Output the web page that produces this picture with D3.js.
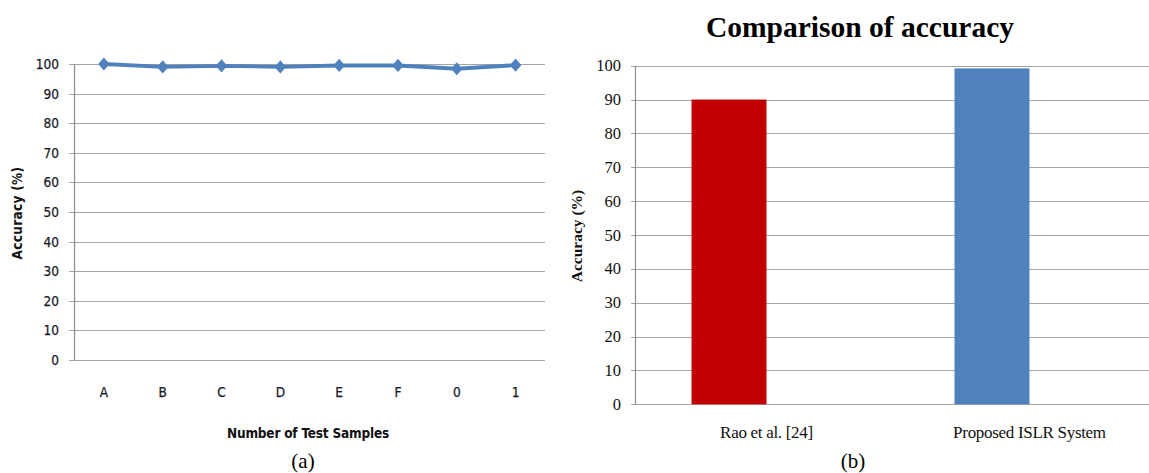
<!DOCTYPE html>
<html><head><meta charset="utf-8">
<script src="https://cdn.jsdelivr.net/npm/d3@7"></script>
<style>body{margin:0;background:#fff}svg{display:block}</style>
</head><body>
<svg id="c" width="1149" height="473"></svg>
<script>
// Chart (a)
const samples = ["A","B","C","D","E","F","0","1"];
const sampleAccuracy = [100, 99, 99.4, 99, 99.5, 99.5, 98.4, 99.6];
const ticksA = [0,10,20,30,40,50,60,70,80,90,100];
// Chart (b)
const methods = ["Rao et al. [24]", "Proposed ISLR System"];
const methodAccuracy = [90, 99.2];
const methodColors = ["#c00000", "#4f81bd"];
const ticksB = [0,10,20,30,40,50,60,70,80,90,100];

const svg = d3.select("#c");
const grid = "#a6a6a6";
const sansA = "'DejaVu Sans Condensed','DejaVu Sans',sans-serif";
const serif = "'Liberation Serif',serif";

// ---------- (a) line chart ----------
{
  const x = d3.scaleBand().domain(samples).range([74.5, 545]);
  const y = d3.scaleLinear().domain([0,100]).range([360, 64]);
  const g = svg.append("g");
  g.selectAll("line.g").data(ticksA).join("line")
    .attr("x1", 69).attr("x2", 545)
    .attr("y1", d=>Math.round(y(d))+0.5).attr("y2", d=>Math.round(y(d))+0.5)
    .attr("stroke", grid).attr("stroke-width", 1.2);
  g.append("line").attr("x1",74.5).attr("x2",74.5).attr("y1",y(100)).attr("y2",y(0)+0.5)
    .attr("stroke","#909090").attr("stroke-width",1.2);
  g.selectAll("text.t").data(ticksA).join("text")
    .attr("x", 59).attr("y", d=>y(d)+5).attr("text-anchor","end")
    .attr("font-family",sansA).attr("font-size",13.5)
    .attr("fill","#1a1a2a").attr("stroke","#1a1a2a").attr("stroke-width",0.25).text(d=>d);
  g.selectAll("text.x").data(samples).join("text")
    .attr("x", d=>x(d)+x.bandwidth()/2).attr("y", 397).attr("text-anchor","middle")
    .attr("font-family",sansA).attr("font-size",13.5)
    .attr("fill","#1a1a2a").attr("stroke","#1a1a2a").attr("stroke-width",0.25).text(d=>d);
  const pts = samples.map((s,i)=>[x(s)+x.bandwidth()/2, y(sampleAccuracy[i])]);
  g.append("path").attr("d", d3.line()(pts)).attr("fill","none")
    .attr("stroke","#4f81bd").attr("stroke-width",3.8);
  g.selectAll("path.m").data(pts).join("path")
    .attr("d", d3.symbol().type(d3.symbolSquare).size(66))
    .attr("transform", d=>`translate(${d[0]},${d[1]}) scale(1,1.15) rotate(45)`)
    .attr("fill","#4f81bd");
  g.append("text").attr("x", 308).attr("y", 438).attr("text-anchor","middle")
    .attr("font-family",sansA).attr("font-weight","bold")
    .attr("font-size",13.5).attr("letter-spacing",-0.2).attr("fill","#111").text("Number of Test Samples");
  g.append("text").attr("transform","translate(22,213) rotate(-90)").attr("text-anchor","middle")
    .attr("font-family",sansA).attr("font-weight","bold")
    .attr("font-size",13.5).attr("letter-spacing",0.3).attr("fill","#111").text("Accuracy  (%)");
  g.append("text").attr("x",303).attr("y",468).attr("text-anchor","middle")
    .attr("font-family",serif).attr("font-size",21).attr("fill","#000").text("(a)");
}

// ---------- (b) bar chart ----------
{
  const x = d3.scaleBand().domain(methods).range([635, 1086]).paddingInner(0.715).paddingOuter(0.215);
  const y = d3.scaleLinear().domain([0,100]).range([404.3, 65.7]);
  const g = svg.append("g");
  g.selectAll("line.g").data(ticksB).join("line")
    .attr("x1", 631).attr("x2", 1149)
    .attr("y1", d=>Math.round(y(d))+0.5).attr("y2", d=>Math.round(y(d))+0.5)
    .attr("stroke", grid).attr("stroke-width", 1.2);
  g.append("line").attr("x1",635.5).attr("x2",635.5).attr("y1",y(100)).attr("y2",y(0)+0.5)
    .attr("stroke","#909090").attr("stroke-width",1.2);
  g.selectAll("rect").data(methods).join("rect")
    .attr("x", d=>x(d)).attr("width", x.bandwidth())
    .attr("y", (d,i)=>y(methodAccuracy[i])).attr("height",(d,i)=>y(0)-y(methodAccuracy[i]))
    .attr("fill",(d,i)=>methodColors[i]);
  g.selectAll("text.t").data(ticksB).join("text")
    .attr("x", 621).attr("y", d=>y(d)+5.5).attr("text-anchor","end")
    .attr("font-family",serif).attr("font-size",16.5)
    .attr("fill","#111").text(d=>d);
  g.selectAll("text.x").data(methods).join("text")
    .attr("x", d=>x(d)+x.bandwidth()).attr("y", 438).attr("text-anchor","middle")
    .attr("font-family",serif).attr("font-size",17).attr("letter-spacing",-0.3)
    .attr("fill","#111").text(d=>d);
  g.append("text").attr("x", 860).attr("y", 37).attr("text-anchor","middle")
    .attr("font-family",serif).attr("font-weight","bold")
    .attr("font-size",29.5).attr("fill","#000").text("Comparison of accuracy");
  g.append("text").attr("transform","translate(582,236) rotate(-90)").attr("text-anchor","middle")
    .attr("font-family",serif).attr("font-weight","bold")
    .attr("font-size",15.5).attr("fill","#111").text("Accuracy (%)");
  g.append("text").attr("x",853).attr("y",468).attr("text-anchor","middle")
    .attr("font-family",serif).attr("font-size",21).attr("fill","#000").text("(b)");
}
</script>
</body></html>
